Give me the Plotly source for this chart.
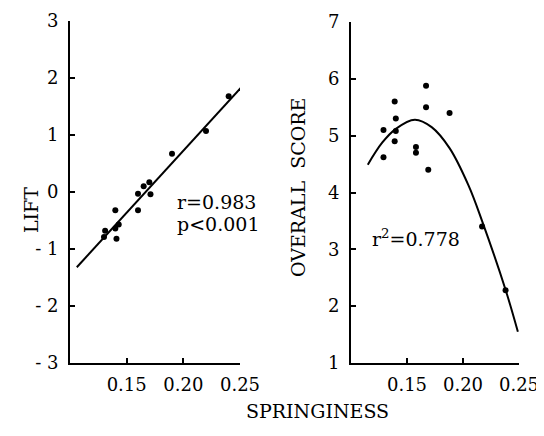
import plotly.graph_objects as go

# ---- data ----
lift_x = [0.240, 0.220, 0.190, 0.170, 0.165, 0.160, 0.171, 0.140, 0.160, 0.143, 0.131, 0.140, 0.130, 0.141]
lift_y = [1.68, 1.07, 0.67, 0.17, 0.10, -0.03, -0.04, -0.32, -0.32, -0.57, -0.68, -0.64, -0.79, -0.82]
lift_fit_x = [0.106, 0.254]
lift_fit_y = [-1.32, 1.90]

score_x = [0.129, 0.129, 0.139, 0.140, 0.140, 0.139, 0.158, 0.158, 0.167, 0.167, 0.169, 0.188, 0.217, 0.238]
score_y = [5.10, 4.62, 5.60, 5.30, 5.08, 4.90, 4.80, 4.70, 5.88, 5.50, 4.40, 5.40, 3.40, 2.28]
score_fit_x = [0.115, 0.128, 0.140, 0.157, 0.172, 0.188, 0.205, 0.217, 0.238, 0.249]
score_fit_y = [4.49, 4.88, 5.12, 5.28, 5.15, 4.78, 4.12, 3.50, 2.29, 1.55]

x_ticks = [0.15, 0.20, 0.25]
x_tick_labels = ["0.15", "0.20", "0.25"]
lift_ticks = [-3, -2, -1, 0, 1, 2, 3]
lift_tick_labels = ["- 3", "- 2", "- 1", "0", "1", "2", "3"]
score_ticks = [1, 2, 3, 4, 5, 6, 7]
score_tick_labels = ["1", "2", "3", "4", "5", "6", "7"]

FONT = "DejaVu Serif"
OFF = 8                      # page body margin
W, H = 544 - OFF, 436 - OFF

fig = go.Figure()
fig.add_trace(go.Scatter(x=lift_fit_x, y=lift_fit_y, mode="lines",
                         line=dict(color="black", width=2), xaxis="x", yaxis="y",
                         cliponaxis=False))
fig.add_trace(go.Scatter(x=lift_x, y=lift_y, mode="markers",
                         marker=dict(color="black", size=6), xaxis="x", yaxis="y",
                         cliponaxis=False))
fig.add_trace(go.Scatter(x=score_fit_x, y=score_fit_y, mode="lines",
                         line=dict(color="black", width=2, shape="spline", smoothing=1.0),
                         xaxis="x2", yaxis="y2", cliponaxis=False))
fig.add_trace(go.Scatter(x=score_x, y=score_y, mode="markers",
                         marker=dict(color="black", size=6), xaxis="x2", yaxis="y2",
                         cliponaxis=False))

def px_x(p):
    return (p - OFF) / W

def px_y(p):
    return 1 - (p - OFF) / H

common_x = dict(range=[0.10, 0.25], tickvals=x_ticks, ticktext=x_tick_labels,
                showline=True, linecolor="black", linewidth=2, ticks="inside",
                ticklen=5, tickwidth=1.5, tickcolor="black", showgrid=False,
                zeroline=False, tickfont=dict(family=FONT, size=18, color="black"),
                ticklabelstandoff=4, automargin=False)
common_y = dict(showline=True, linecolor="black", linewidth=2, ticks="inside",
                ticklen=5, tickwidth=1.5, tickcolor="black", showgrid=False,
                zeroline=False, tickfont=dict(family=FONT, size=18, color="black"),
                ticklabelstandoff=6, automargin=False)

fig.update_layout(
    width=W, height=H,
    margin=dict(l=0, r=0, t=0, b=0, autoexpand=False),
    paper_bgcolor="white", plot_bgcolor="white",
    showlegend=False,
    xaxis=dict(domain=[px_x(70), px_x(240)], anchor="y", **common_x),
    yaxis=dict(domain=[px_y(363), px_y(21)], anchor="x", range=[-3, 3],
               tickvals=lift_ticks, ticktext=lift_tick_labels, **common_y),
    xaxis2=dict(domain=[px_x(351), px_x(519)], anchor="y2", **common_x),
    yaxis2=dict(domain=[px_y(363), px_y(22)], anchor="x2", range=[1, 7],
                tickvals=score_ticks, ticktext=score_tick_labels, **common_y),
    annotations=[
        dict(text="LIFT", x=px_x(18), y=px_y(210), xref="paper", yref="paper",
             showarrow=False, textangle=-90, font=dict(family=FONT, size=19, color="black")),
        dict(text="OVERALL  SCORE", x=px_x(298), y=px_y(188), xref="paper", yref="paper",
             showarrow=False, textangle=-90, font=dict(family=FONT, size=19, color="black")),
        dict(text="SPRINGINESS", x=px_x(317), y=px_y(424), xref="paper", yref="paper",
             showarrow=False, font=dict(family=FONT, size=19, color="black")),
        dict(text="r=0.983", x=px_x(175), y=px_y(202), xref="paper", yref="paper",
             xanchor="left", showarrow=False, font=dict(family=FONT, size=19, color="black")),
        dict(text="p&lt;0.001", x=px_x(175), y=px_y(224), xref="paper", yref="paper",
             xanchor="left", showarrow=False, font=dict(family=FONT, size=19, color="black")),
        dict(text="r<sup>2</sup>=0.778", x=px_x(370), y=px_y(238), xref="paper", yref="paper",
             xanchor="left", showarrow=False, font=dict(family=FONT, size=19, color="black")),
    ],
)

fig.write_html("out.html")
